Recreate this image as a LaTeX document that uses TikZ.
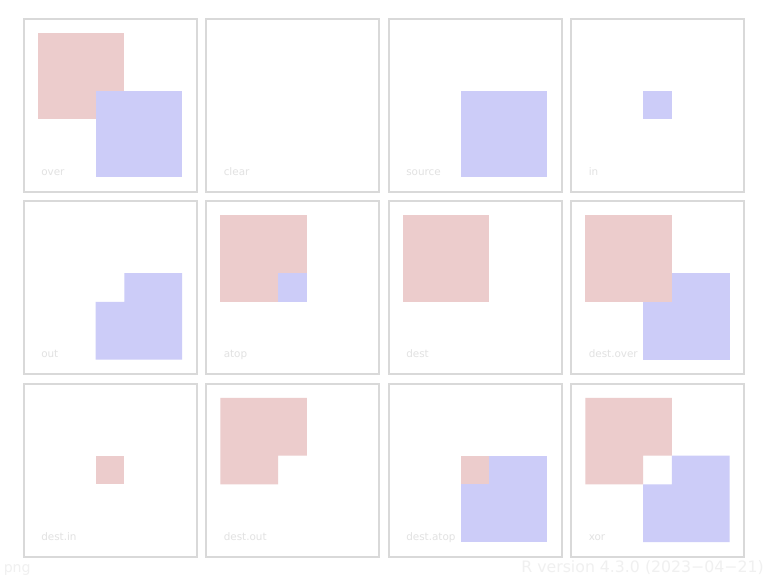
\documentclass[tikz,border=0pt]{standalone}
\usepackage{fontspec}
\setmainfont{DejaVu Sans}
\definecolor{pinkc}{RGB}{236,204,204}
\definecolor{bluec}{RGB}{204,204,248}
\definecolor{framec}{RGB}{217,217,217}
\definecolor{labc}{RGB}{226,226,226}
\definecolor{footc}{RGB}{240,240,240}
\tikzset{
  panelframe/.style={draw=framec, line width=1.5pt, fill=white},
  pk/.style={fill=pinkc, draw=none},
  bl/.style={fill=bluec, draw=none},
  lab/.style={text=labc, font=\fontsize{7.8}{9}\selectfont, anchor=base west, inner sep=0pt},
  foot/.style={text=footc, inner sep=0pt, anchor=base west}
}
\def\u{14.4167}
\newcommand\Pfull{\path[pk] (1*\u,1*\u) rectangle (7*\u,7*\u);}
\newcommand\Bfull{\path[bl] (5*\u,5*\u) rectangle (11*\u,11*\u);}
\newcommand\Pin{\path[pk] (5*\u,5*\u) rectangle (7*\u,7*\u);}
\newcommand\Bin{\path[bl] (5*\u,5*\u) rectangle (7*\u,7*\u);}
\newcommand\Pout{\path[pk] (1*\u,1*\u) -- (7*\u,1*\u) -- (7*\u,5*\u) -- (5*\u,5*\u) -- (5*\u,7*\u) -- (1*\u,7*\u) -- cycle;}
\newcommand\Bout{\path[bl] (7*\u,5*\u) -- (11*\u,5*\u) -- (11*\u,11*\u) -- (5*\u,11*\u) -- (5*\u,7*\u) -- (7*\u,7*\u) -- cycle;}
\newcommand\cpanel[5]{%
  \begin{scope}[shift={(23.5+182.5*#1,18.5+182.5*#2)}]
    \path[panelframe] (0,0) rectangle (173,173);
    #4
    \node[lab] (#5) at (17.5,156.5) {#3};
  \end{scope}}
\begin{document}
\begin{tikzpicture}[x=0.75pt,y=-0.75pt]
\useasboundingbox[fill=white] (0,0) rectangle (768,576);
\cpanel{0}{0}{over}{\Pfull\Bfull}{l1}
\cpanel{1}{0}{clear}{}{l2}
\cpanel{2}{0}{source}{\Bfull}{l3}
\cpanel{3}{0}{in}{\Bin}{l4}
\cpanel{0}{1}{out}{\Bout}{l5}
\cpanel{1}{1}{atop}{\Pfull\Bin}{l6}
\cpanel{2}{1}{dest}{\Pfull}{l7}
\cpanel{3}{1}{dest.over}{\Bfull\Pfull}{l8}
\cpanel{0}{2}{dest.in}{\Pin}{l9}
\cpanel{1}{2}{dest.out}{\Pout}{l10}
\cpanel{2}{2}{dest.atop}{\Bfull\Pin}{l11}
\cpanel{3}{2}{xor}{\Pout\Bout}{l12}
\node[foot, font=\fontsize{10.6}{12}\selectfont] (png) at (3.5,572.5) {png};
\node[foot, anchor=base east, font=\fontsize{11.8}{13}\selectfont] (ver) at (764,572.5) {R version 4.3.0 (2023−04−21)};
\end{tikzpicture}
\end{document}
